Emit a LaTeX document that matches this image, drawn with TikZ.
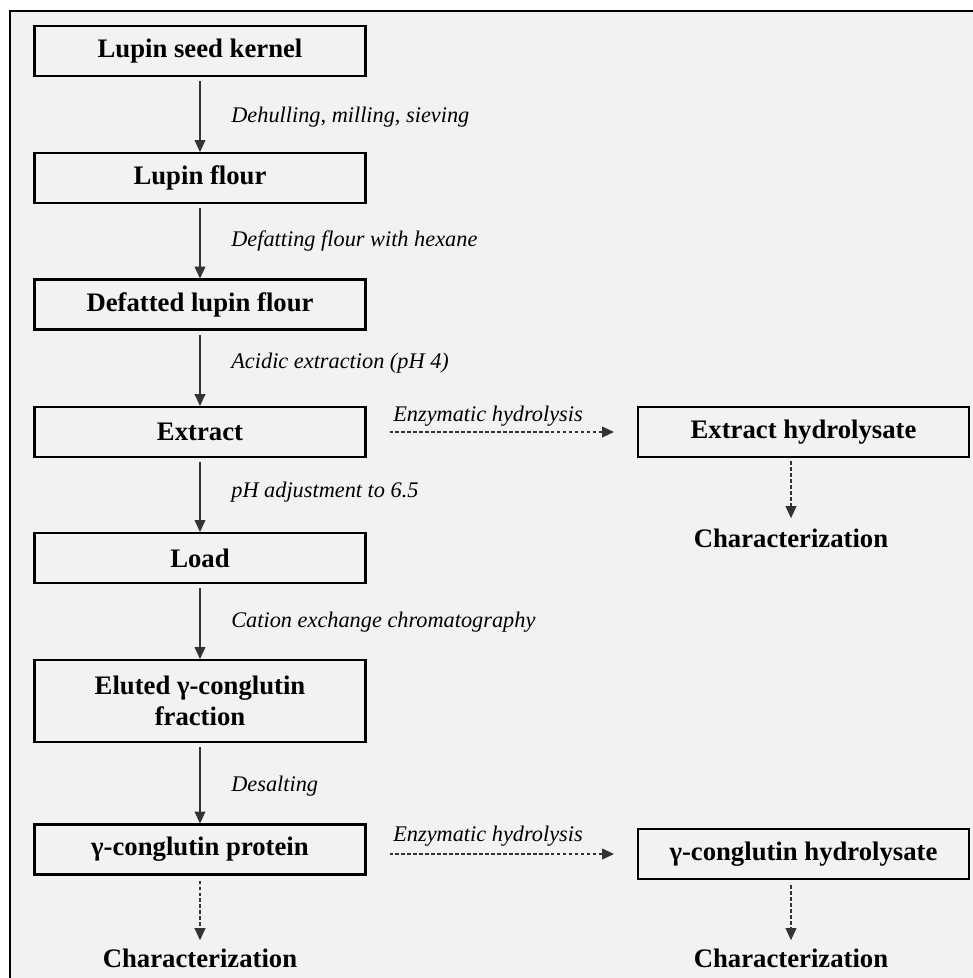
\documentclass[tikz,border=0pt]{standalone}
\usepackage{fontspec}
\setmainfont{Liberation Serif}
\usetikzlibrary{arrows.meta}
\definecolor{fundo}{HTML}{F2F2F2}

\begin{document}
\begin{tikzpicture}[x=0.02cm, y=-0.02cm, >={Triangle[width=6.2pt,length=6.8pt]},
    caixa/.style={draw, line width=1.2pt, minimum width=6.62cm, minimum height=1cm,
      inner sep=0pt, align=center, font=\fontsize{15.2}{18}\selectfont\bfseries},
    titulo/.style={inner sep=0pt, anchor=base, font=\fontsize{15.2}{18}\selectfont\bfseries},
    rotulo/.style={inner sep=0pt, anchor=base west, font=\fontsize{12.7}{15}\selectfont\itshape},
    seta/.style={->, line width=0.6pt, black!80, shorten <=0.08cm},
    tracejada/.style={seta, dash pattern=on 2.1pt off 1.3pt}]

  % Moldura
  \useasboundingbox (0,0) rectangle (973,978);
  \fill[white] (0,0) rectangle (973,978);
  \fill[fundo] (10,11) rectangle (973,978);
  \draw[line width=1.1pt] (973,11) -- (10,11) -- (10,978);

  % Caixas
  \node[caixa] (kernel) at (200,51) {Lupin seed kernel};
  \node[caixa] (flour) at (200,178) {Lupin flour};
  \node[caixa] (defat) at (200,304.5) {Defatted lupin flour};
  \node[caixa] (extract) at (200,432) {Extract};
  \node[caixa] (load) at (200,558) {Load};
  \node[caixa, minimum height=1.64cm] (eluted) at (200,701) {Eluted γ-conglutin\\fraction};
  \node[caixa] (protein) at (200,849.5) {γ-conglutin protein};
  \node[caixa] (exhyd) at (803.5,432) {Extract hydrolysate};
  \node[caixa] (gamhyd) at (803.5,854) {γ-conglutin hydrolysate};

  % Caracterizacao
  \node[titulo] (charA) at (200,967) {Characterization};
  \node[titulo] (charB) at (791,547) {Characterization};
  \node[titulo] (charC) at (791,967) {Characterization};

  % Setas principais
  \draw[seta] (kernel) -- (flour);
  \draw[seta] (flour) -- (defat);
  \draw[seta] (defat) -- (extract);
  \draw[seta] (extract) -- (load);
  \draw[seta] (load) -- (eluted);
  \draw[seta] (eluted) -- (protein);

  % Rotulos das etapas
  \node[rotulo] (l1) at (231,122) {Dehulling, milling, sieving};
  \node[rotulo] (l2) at (231,246) {Defatting flour with hexane};
  \node[rotulo] (l3) at (231,368) {Acidic extraction (pH 4)};
  \node[rotulo] (l4) at (231,497) {pH adjustment to 6.5};
  \node[rotulo] (l5) at (231,627) {Cation exchange chromatography};
  \node[rotulo] (l6) at (231,791) {Desalting};

  % Hidrolise
  \draw[tracejada, shorten <=0.46cm, shorten >=0.46cm] (extract) -- (exhyd);
  \draw[tracejada, shorten <=0.46cm, shorten >=0.46cm] (protein.east |- gamhyd) -- (gamhyd.west);
  \node[rotulo] (e1) at (393,421) {Enzymatic hydrolysis};
  \node[rotulo] (e2) at (393,841) {Enzymatic hydrolysis};

  % Setas tracejadas para caracterizacao
  \draw[tracejada, shorten <=0.1cm, shorten >=0.16cm] (protein) -- (charA);
  \draw[tracejada, shorten <=0.06cm, shorten >=0.2cm] (exhyd.south -| charB) -- (charB);
  \draw[tracejada, shorten <=0.1cm, shorten >=0.16cm] (gamhyd.south -| charC) -- (charC);
\end{tikzpicture}
\end{document}
